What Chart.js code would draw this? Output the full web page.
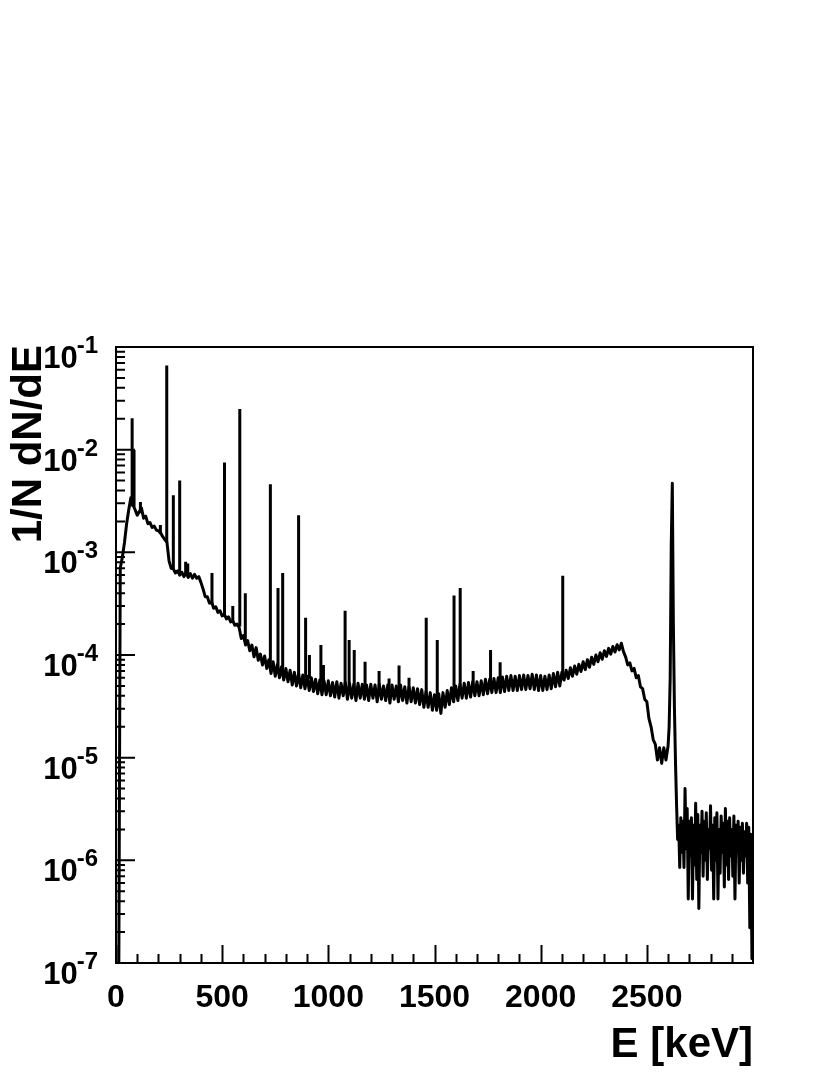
<!DOCTYPE html>
<html>
<head>
<meta charset="utf-8">
<script src="https://cdn.jsdelivr.net/npm/chart.js@4"></script>
<style>
  html, body { margin: 0; padding: 0; background: #fff; }
  canvas { display: block; }
</style>
</head>
<body>
<canvas id="spectrum" width="830" height="1075"></canvas>
<script>
// ============================================================
// GAMMA SPECTRUM — 1/N dN/dE vs E [keV], log y
// ============================================================

// ── Continuum, 10 keV bins from 0 to 2590 keV ──────────────
const contStart = 0;
const contStep  = 10;
const contValues = [
  1e-9,   1e-9,   7.0e-4, 9.0e-4, 1.25e-3, 1.9e-3, 2.6e-3, 3.4e-3, 2.9e-3, 2.6e-3,       //    0
  2.3e-3, 2.5e-3, 2.7e-3, 2.15e-3, 2.25e-3, 1.9e-3, 1.95e-3, 1.75e-3, 1.8e-3, 1.65e-3,   //  100
  1.62e-3, 1.55e-3, 1.42e-3, 1.33e-3, 1.25e-3, 8.2e-4, 7.0e-4, 6.9e-4, 6.3e-4, 6.6e-4,   //  200
  6.0e-4, 6.4e-4, 5.8e-4, 6.3e-4, 5.7e-4, 6.2e-4, 5.6e-4, 6.1e-4, 5.6e-4, 5.8e-4,       //  300
  5.1e-4, 4.4e-4, 3.7e-4, 3.7e-4, 3.2e-4, 3.3e-4, 2.85e-4, 2.95e-4, 2.6e-4, 2.7e-4,     //  400
  2.4e-4, 2.5e-4, 2.25e-4, 2.35e-4, 2.1e-4, 2.15e-4, 1.95e-4, 2.0e-4, 1.85e-4, 1.45e-4, //  500
  1.55e-4, 1.25e-4, 1.38e-4, 1.1e-4, 1.25e-4, 9.6e-5, 1.18e-4, 8.9e-5, 1.02e-4, 8.0e-5, //  600
  9.8e-5, 7.4e-5, 9.0e-5, 6.6e-5, 8.6e-5, 6.2e-5, 8.1e-5, 6.0e-5, 7.7e-5, 5.7e-5,       //  700
  7.4e-5, 5.5e-5, 7.1e-5, 5.1e-5, 6.8e-5, 5.0e-5, 6.6e-5, 4.8e-5, 6.4e-5, 4.7e-5,       //  800
  6.2e-5, 4.5e-5, 6.0e-5, 4.4e-5, 5.8e-5, 4.2e-5, 5.7e-5, 4.1e-5, 5.6e-5, 4.1e-5,       //  900
  5.6e-5, 4.0e-5, 5.4e-5, 3.9e-5, 5.5e-5, 3.8e-5, 5.3e-5, 4.0e-5, 5.4e-5, 3.7e-5,       // 1000
  5.3e-5, 3.8e-5, 5.2e-5, 3.6e-5, 5.3e-5, 3.8e-5, 5.2e-5, 3.7e-5, 5.1e-5, 3.6e-5,       // 1100
  5.2e-5, 3.8e-5, 5.1e-5, 3.5e-5, 5.2e-5, 3.7e-5, 5.0e-5, 3.6e-5, 5.1e-5, 3.4e-5,       // 1200
  5.1e-5, 3.7e-5, 5.0e-5, 3.5e-5, 5.1e-5, 3.6e-5, 4.9e-5, 3.4e-5, 4.9e-5, 3.5e-5,       // 1300
  4.8e-5, 3.4e-5, 4.7e-5, 3.3e-5, 4.6e-5, 3.1e-5, 4.4e-5, 3.1e-5, 4.3e-5, 2.9e-5,       // 1400
  4.1e-5, 2.9e-5, 4.2e-5, 2.7e-5, 4.3e-5, 3.1e-5, 4.5e-5, 3.3e-5, 4.8e-5, 3.5e-5,       // 1500
  5.0e-5, 3.6e-5, 5.2e-5, 3.8e-5, 5.3e-5, 3.8e-5, 5.4e-5, 3.9e-5, 5.5e-5, 4.0e-5,       // 1600
  5.5e-5, 4.0e-5, 5.6e-5, 4.1e-5, 5.8e-5, 4.2e-5, 5.8e-5, 4.3e-5, 5.9e-5, 4.3e-5,       // 1700
  6.0e-5, 4.3e-5, 6.1e-5, 4.4e-5, 6.2e-5, 4.5e-5, 6.3e-5, 4.5e-5, 6.2e-5, 4.5e-5,       // 1800
  6.3e-5, 4.6e-5, 6.4e-5, 4.6e-5, 6.3e-5, 4.7e-5, 6.5e-5, 4.6e-5, 6.4e-5, 4.5e-5,       // 1900
  6.3e-5, 4.5e-5, 6.2e-5, 4.6e-5, 6.4e-5, 4.7e-5, 6.6e-5, 4.9e-5, 6.8e-5, 5.0e-5,       // 2000
  6.8e-5, 5.7e-5, 7.1e-5, 5.9e-5, 7.5e-5, 6.2e-5, 7.8e-5, 6.5e-5, 8.1e-5, 6.9e-5,       // 2100
  8.6e-5, 7.2e-5, 9.0e-5, 7.6e-5, 9.5e-5, 8.1e-5, 1.0e-4, 8.6e-5, 1.05e-4, 9.1e-5,      // 2200
  1.1e-4, 9.7e-5, 1.16e-4, 1.02e-4, 1.21e-4, 1.07e-4, 1.26e-4, 1.12e-4, 1.3e-4, 1.08e-4, // 2300
  9.6e-5, 8.0e-5, 8.4e-5, 7.0e-5, 7.4e-5, 6.0e-5, 6.3e-5, 4.9e-5, 4.7e-5, 3.7e-5,       // 2400
  3.5e-5, 2.4e-5, 2.0e-5, 1.5e-5, 1.35e-5, 9.5e-6, 1.25e-5, 8.8e-6, 1.25e-5, 9.5e-6     // 2500
];

// ── Tl-208 2614 keV peak and the noisy tail, 5 keV bins 2600..3000 ──
const tailStart = 2600;
const tailStep  = 5;
const tailValues = [
  1.3e-5, 2.0e-5, 6.0e-5, 1.2e-3, 4.7e-3, 2.0e-4, 3.0e-5, 9.0e-6, 3.5e-6, 1.6e-6,     // 2600
  2.2e-6, 8.5e-7, 2.6e-6, 1.2e-6, 2.4e-6, 8.5e-7, 5.0e-6, 1.3e-6, 3.2e-6, 4.2e-7,     // 2650
  2.4e-6, 1.1e-6, 2.6e-6, 4.2e-7, 2.2e-6, 9.0e-7, 3.6e-6, 6.5e-7, 2.8e-6, 3.4e-7,     // 2700
  2.2e-6, 1.2e-6, 3.0e-6, 7.0e-7, 2.4e-6, 1.0e-6, 2.9e-6, 6.5e-7, 2.0e-6, 1.3e-6,     // 2750
  3.4e-6, 8.0e-7, 2.2e-6, 4.2e-7, 2.6e-6, 1.0e-6, 2.9e-6, 4.2e-7, 2.0e-6, 7.5e-7,     // 2800
  2.7e-6, 1.2e-6, 2.3e-6, 5.5e-7, 3.2e-6, 9.0e-7, 2.4e-6, 6.5e-7, 2.6e-6, 1.1e-6,     // 2850
  2.0e-6, 7.0e-7, 2.7e-6, 4.2e-7, 2.2e-6, 1.2e-6, 2.4e-6, 6.0e-7, 2.1e-6, 1.0e-6,     // 2900
  2.3e-6, 7.5e-7, 1.9e-6, 1.1e-6, 2.3e-6, 6.0e-7, 2.1e-6, 2.2e-7, 1.8e-6, 1.1e-7,     // 2950
  1.5e-6                                                                               // 3000
];

// ── Gamma lines: energy [keV], continuum under it, peak top ─
const peakE    = [76, 85, 115, 209, 239, 270, 300, 328, 338, 452, 511, 550, 583, 609,
                  727, 763, 785, 860, 893, 911, 965, 977, 1079, 1098, 1122, 1173, 1239,
                  1286, 1333, 1380, 1461, 1513, 1592, 1621, 1682, 1764, 1809, 2104];
const peakBase = [2.8e-3, 2.8e-3, 2.4e-3, 1.5e-3, 1.25e-3, 6.8e-4, 6.2e-4, 5.9e-4, 6.0e-4, 3.1e-4,
                  2.45e-4, 2.1e-4, 1.9e-4, 1.35e-4, 7.7e-5, 7.3e-5, 7.0e-5, 6.2e-5, 5.9e-5, 5.8e-5,
                  5.3e-5, 5.2e-5, 4.7e-5, 4.6e-5, 4.6e-5, 4.5e-5, 4.5e-5, 4.4e-5, 4.4e-5, 4.3e-5,
                  3.9e-5, 3.8e-5, 4.4e-5, 4.5e-5, 4.7e-5, 5.0e-5, 5.2e-5, 6.2e-5];
const peakTop  = [0.0202, 0.0099, 3.1e-3, 1.85e-3, 0.066, 0.0036, 0.0050, 8.1e-4, 7.8e-4, 6.3e-4,
                  0.0075, 3.0e-4, 0.0249, 4.0e-4, 0.0046, 4.5e-4, 6.3e-4, 0.0023, 2.3e-4, 1.0e-4,
                  1.25e-4, 8.0e-5, 2.7e-4, 1.4e-4, 1.12e-4, 8.6e-5, 7.0e-5, 5.9e-5, 7.9e-5, 6.0e-5,
                  2.3e-4, 1.4e-4, 3.8e-4, 4.5e-4, 7.0e-5, 1.12e-4, 8.5e-5, 5.9e-4];

// ── Axis ticks and labels ─────────────────────────────────
const xMajorTicks  = [0, 500, 1000, 1500, 2000, 2500];
const xTickLabels  = ['0', '500', '1000', '1500', '2000', '2500'];
const yDecades     = [-7, -6, -5, -4, -3, -2, -1];
const xTitle       = 'E [keV]';
const yTitle       = '1/N dN/dE';

(function () {

  const FONT = "'Liberation Sans', Arial, Helvetica, sans-serif";

  // ── Build point lists from the arrays ────────────────────
  const spectrum = [];
  contValues.forEach(function (v, i) { spectrum.push({ x: contStart + i * contStep, y: v }); });
  tailValues.forEach(function (v, i) { spectrum.push({ x: tailStart + i * tailStep, y: v }); });

  // each line is a vertical segment, separated by a gap
  const lines = [];
  peakE.forEach(function (e, i) {
    lines.push({ x: e, y: peakBase[i] });
    lines.push({ x: e, y: peakTop[i] });
    lines.push({ x: e, y: null });
  });

  // ── ROOT-style frame, inward ticks and labels ────────────
  const rootFrame = {
    id: 'rootFrame',
    afterDatasetsDraw(chart) {
      const { ctx, chartArea: a, scales: { x, y } } = chart;
      ctx.save();
      ctx.strokeStyle = '#000';
      ctx.fillStyle = '#000';
      ctx.lineWidth = 2;
      ctx.strokeRect(a.left, a.top, a.right - a.left, a.bottom - a.top);

      // x ticks: minor every 100 keV, major every 500 keV
      ctx.beginPath();
      for (let e = 0; e < 3000; e += 100) {
        const px = Math.round(x.getPixelForValue(e)) + 0.5;
        const len = xMajorTicks.includes(e) ? 18 : 9;
        ctx.moveTo(px, a.bottom);
        ctx.lineTo(px, a.bottom - len);
      }
      // y ticks: decades long, 2..9 short
      yDecades.forEach(function (k) {
        const py = y.getPixelForValue(Math.pow(10, k));
        ctx.moveTo(a.left, py);
        ctx.lineTo(a.left + 19, py);
        if (k < -1) {
          for (let m = 2; m <= 9; m++) {
            const pm = y.getPixelForValue(m * Math.pow(10, k));
            ctx.moveTo(a.left, pm);
            ctx.lineTo(a.left + 9, pm);
          }
        }
      });
      ctx.stroke();

      // x tick labels
      ctx.font = 'bold 32px ' + FONT;
      ctx.textAlign = 'center';
      ctx.textBaseline = 'alphabetic';
      xMajorTicks.forEach(function (e, i) {
        ctx.fillText(xTickLabels[i], x.getPixelForValue(e), a.bottom + 44);
      });

      // y tick labels, 10 with raised exponent
      yDecades.forEach(function (k) {
        const py = y.getPixelForValue(Math.pow(10, k));
        const sup = '-' + Math.abs(k);
        ctx.textAlign = 'right';
        ctx.font = 'bold 24px ' + FONT;
        const supRight = a.left - 18;
        ctx.fillText(sup, supRight, py + 6);
        const supW = ctx.measureText(sup).width;
        ctx.font = 'bold 31px ' + FONT;
        ctx.fillText('10', supRight - supW + 1, py + 21);
      });

      // axis titles
      ctx.font = 'bold 42px ' + FONT;
      ctx.textAlign = 'right';
      ctx.fillText(xTitle, a.right, a.bottom + 94);

      ctx.translate(41, a.top - 2);
      ctx.rotate(-Math.PI / 2);
      ctx.textAlign = 'right';
      ctx.fillText(yTitle, 0, 0);
      ctx.restore();
    }
  };

  new Chart(document.getElementById('spectrum'), {
    type: 'line',
    data: {
      datasets: [
        {
          data: spectrum,
          borderColor: '#000',
          borderWidth: 3,
          borderJoinStyle: 'round',
          pointRadius: 0,
          tension: 0
        },
        {
          data: lines,
          borderColor: '#000',
          borderWidth: 3,
          pointRadius: 0,
          tension: 0,
          spanGaps: false
        }
      ]
    },
    options: {
      responsive: false,
      animation: false,
      devicePixelRatio: 1,
      layout: { padding: { left: 116, top: 347, right: 77, bottom: 112 } },
      scales: {
        x: { type: 'linear', min: 0, max: 3000, display: false },
        y: { type: 'logarithmic', min: 1e-7, max: 1e-1, display: false }
      },
      plugins: {
        legend: { display: false },
        tooltip: { enabled: false }
      }
    },
    plugins: [rootFrame]
  });

})();
</script>
</body>
</html>
